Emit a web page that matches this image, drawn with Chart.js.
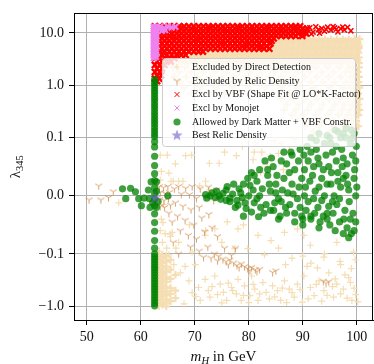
<!DOCTYPE html>
<html>
<head>
<meta charset="utf-8">
<script src="https://cdn.jsdelivr.net/npm/chart.js@4.4.1/dist/chart.umd.min.js"></script>
<style>
  html, body { margin: 0; padding: 0; background: #fff; overflow: hidden; width: 374px; height: 364px; }
  canvas { display: block; }
</style>
</head>
<body>
<canvas id="chart" width="380" height="364"></canvas>
<script>
// tick positions / labels
const xTicks = [50, 60, 70, 80, 90, 100];
const yTicks = [-1, -0.1, 0, 0.1, 1, 10];
const yTickLabels = ["\u22121.0", "\u22120.1", "0.0", "0.1", "1.0", "10.0"];

const seriesLabels = [
  "Excluded by Direct Detection",
  "Excluded by Relic Density",
  "Excl by VBF (Shape Fit @ LO*K-Factor)",
  "Excl by Monojet",
  "Allowed by Dark Matter + VBF Constr.",
  "Best Relic Density"
];

// ---- Excluded by Direct Detection (rows: [lambda, [mH ...]]) ----
const directRows = [
  [7.6, [85.3, 86.4, 87.5, 88.6, 89.7, 90.8, 91.9, 93.0, 94.1, 95.2, 96.3, 97.4, 98.5, 99.6, 100.5]],
  [7.0, [84.6, 85.8, 86.9, 88.0, 89.1, 90.2, 91.3, 92.4, 93.5, 94.6, 95.7, 96.8, 97.9, 99.0, 100.1]],
  [6.3, [84.8, 85.9, 87.0, 88.1, 89.2, 90.3, 91.4, 92.5, 93.6, 94.7, 95.8, 96.9, 98.0, 99.1, 100.2]],
  [5.7, [79.5, 80.6, 81.7, 82.8, 83.9, 85.0, 86.1, 87.2, 88.3, 89.4, 90.5, 91.6, 92.7, 93.8, 94.9, 96.0, 97.1, 98.2, 99.3, 100.4]],
  [5.2, [78.4, 79.5, 80.6, 81.7, 82.8, 83.9, 85.0, 86.1, 87.2, 88.3, 89.4, 90.5, 91.6, 92.7, 93.8, 94.9, 96.0, 97.1, 98.2, 99.3, 100.4]],
  [4.7, [77.0, 78.1, 79.2, 80.3, 81.4, 82.5, 83.6, 84.7, 85.8, 86.9, 88.0, 89.1, 90.2, 91.3, 92.4, 93.5, 94.6, 95.7, 96.8, 97.9, 99.0, 100.1]],
  [4.2, [70.5, 71.6, 72.7, 73.8, 74.9, 76.0, 77.1, 78.2, 79.3, 80.4, 81.5, 82.6, 83.7, 84.8, 85.9, 87.0, 88.1, 89.2, 90.3, 91.4, 92.5, 93.6, 94.7, 95.8, 96.9, 98.0, 99.1, 100.3]],
  [3.8, [68.0, 69.1, 70.2, 71.3, 72.4, 73.5, 74.6, 75.7, 76.8, 77.9, 79.0, 80.1, 81.2, 82.3, 83.4, 84.5, 85.6, 86.7, 87.8, 88.9, 90.0, 91.1, 92.2, 93.3, 94.4, 95.5, 96.6, 97.7, 98.8, 99.9]],
  [3.4, [66.5, 67.6, 68.7, 69.8, 70.9, 72.0, 73.1, 74.2, 75.3, 76.4, 77.5, 78.6, 79.7, 80.8, 81.9, 83.0, 84.1, 85.2, 86.3, 87.4, 88.5, 89.6, 90.7, 91.8, 92.9, 94.0, 95.1, 96.2, 97.3, 98.4, 99.5, 100.4]],
  [3.0, [66.0, 67.1, 68.2, 69.3, 70.4, 71.5, 72.6, 73.7, 74.8, 75.9, 77.0, 78.1, 79.2, 80.3, 81.4, 82.5, 83.6, 84.7, 85.8, 86.9, 88.0, 89.1, 90.2, 91.3, 92.4, 93.5, 94.6, 95.7, 96.8, 97.9, 99.0, 100.1]],
  [2.65, [66.5, 67.6, 68.7, 69.8, 70.9, 72.0, 73.1, 74.2, 75.3, 76.4, 77.5, 78.6, 79.7, 80.8, 81.9, 83.0, 84.1, 85.2, 86.3, 87.4, 88.5, 89.6, 90.7, 91.8, 92.9, 94.0, 95.1, 96.2, 97.3, 98.4, 99.4, 100.4]],
  [2.2, [66.0, 68.2, 70.4, 72.6, 74.8, 77.0, 79.2, 81.4, 83.6, 85.8, 88.0, 90.2, 92.4, 94.6, 96.8, 98.6, 99.5, 100.4]],
  [1.8, [67.1, 69.3, 71.5, 73.7, 75.9, 78.1, 80.3, 82.5, 84.7, 86.9, 89.1, 91.3, 93.5, 95.7, 97.9, 99.2, 100.2]],
  [1.45, [66.2, 68.4, 70.6, 72.8, 75.0, 77.2, 79.4, 81.6, 83.8, 86.0, 88.2, 90.4, 92.6, 94.8, 97.0, 98.8, 99.6, 100.4]],
  [1.15, [67.3, 69.5, 71.7, 73.9, 76.1, 78.3, 80.5, 82.7, 84.9, 87.1, 89.3, 91.5, 93.7, 95.9, 98.1, 99.3, 100.3]],
  [0.9, [68.0, 71.0, 74.0, 77.0, 80.0, 83.0, 86.0, 89.0, 92.0, 95.0, 97.5, 98.9, 99.7, 100.5]],
  [0.7, [69.5, 72.5, 75.5, 78.5, 81.5, 84.5, 87.5, 90.5, 93.5, 96.0, 98.0, 99.3, 100.3]],
  [0.55, [86.0, 88.2, 90.4, 92.6, 94.8, 96.8, 98.4, 99.6, 100.5]],
  [0.43, [87.1, 89.3, 91.5, 93.7, 95.9, 97.7, 99.2, 100.3]],
  [0.34, [86.5, 88.7, 90.9, 93.1, 95.3, 97.3, 98.8, 99.7, 100.5]],
  [0.27, [88.0, 90.2, 92.4, 94.6, 96.6, 98.3, 99.4, 100.3]],
  [0.21, [89.0, 91.2, 93.4, 95.6, 97.6, 99.0, 99.9]],
  [0.165, [90.5, 93.0, 95.5, 97.8, 99.3, 100.3]],
  [0.13, [92.0, 95.0, 97.5, 99.6]]
];
const directColumns = [
  [63.3, [-0.1, -0.112, -0.126, -0.142, -0.16, -0.18, -0.2, -0.225, -0.255, -0.29, -0.33, -0.37, -0.42, -0.47, -0.53, -0.6, -0.68, -0.77, -0.87, -0.98]],
  [64.0, [-0.106, -0.12, -0.135, -0.15, -0.17, -0.19, -0.215, -0.24, -0.27, -0.31, -0.35, -0.4, -0.45, -0.5, -0.57, -0.64, -0.72, -0.82, -0.93]],
  [64.7, [-0.11, -0.14, -0.175, -0.22, -0.28, -0.34, -0.43, -0.52, -0.62, -0.74, -0.88, -1.0]],
  [65.5, [-0.13, -0.2, -0.3, -0.45, -0.58, -0.8]],
  [66.4, [-0.25, -0.5, -0.7]]
];
const directPoints = [
  [55.9, -0.012],
  [63.6, 0.07], [64.9, 0.07], [66.4, 0.055], [63.8, 0.042], [65.2, 0.039], [63.6, 0.027], [65.6, 0.025],
  [67.0, 0.025], [68.3, 0.069], [69.4, 0.07], [72.0, 0.025], [72.7, 0.056], [74.5, 0.056], [77.7, 0.069],
  [80.0, 0.1], [81.2, 0.09], [81.0, 0.075], [82.4, 0.075], [83.5, 0.05], [80.8, 0.062], [82.2, 0.04],
  [84.0, 0.068], [84.7, 0.095], [85.5, 0.073], [86.4, 0.045], [86.0, 0.09], [70.9, 0.017], [72.7, 0.01],
  [66.0, 0.025], [67.8, 0.025], [75.5, 0.075], [78.8, 0.085], [88.5, 0.098], [87.5, 0.085],
  [63.5, -0.015], [64.2, -0.015], [63.8, -0.04], [63.6, -0.06], [64.5, -0.065], [65.5, -0.07], [64.0, -0.08],
  [64.8, -0.09], [66.5, -0.09], [63.4, -0.095], [64.1, -0.046], [65.4, -0.066],
  [66.1, -0.16], [67.3, -0.229], [68.2, -0.172], [68.9, -0.327], [70.7, -0.437], [71.0, -0.774], [71.9, -0.305],
  [72.5, -0.5], [72.8, -0.67], [73.7, -0.264], [74.7, -0.378], [75.3, -0.54], [75.9, -0.774], [76.8, -0.437],
  [77.4, -0.091], [77.7, -0.58], [78.0, -0.305], [78.6, -0.774], [79.2, -0.406], [80.2, -0.625], [80.5, -0.264],
  [81.1, -0.469], [81.7, -0.774], [82.6, -0.352], [83.2, -0.54], [83.8, -0.72], [84.4, -0.406], [85.3, -0.5],
  [85.9, -0.774], [86.6, -0.327], [87.5, -0.469], [88.4, -0.67], [89.0, -0.378], [89.9, -0.83], [90.2, -0.264],
  [90.8, -0.172], [91.4, -0.437], [92.1, -0.625], [92.7, -0.185], [93.0, -0.327], [93.9, -0.5], [94.8, -0.229],
  [95.7, -0.67], [96.3, -0.378], [96.9, -0.138], [97.5, -0.469], [98.5, -0.284], [99.1, -0.774], [99.7, -0.129],
  [99.4, -0.097], [96.3, -0.08], [93.9, -0.115], [91.4, -0.085], [90.2, -0.068], [89.0, -0.057], [86.6, -0.063],
  [84.1, -0.077], [82.9, -0.104], [81.7, -0.068], [79.8, -0.091], [78.0, -0.057], [75.0, -0.08], [73.7, -0.057],
  [71.9, -0.068], [70.1, -0.16], [69.5, -0.097], [67.0, -0.08], [65.8, -0.063], [65.2, -0.104],
  [69.5, -0.55], [70.2, -0.65], [73.2, -0.42], [74.2, -0.6], [76.2, -0.36], [77.0, -0.5], [79.0, -0.62],
  [80.8, -0.38], [82.0, -0.58], [84.8, -0.66], [86.2, -0.45], [88.0, -0.55], [89.5, -0.48], [91.0, -0.72],
  [92.5, -0.38], [94.5, -0.62], [95.5, -0.42], [97.0, -0.58], [98.2, -0.7], [99.5, -0.45], [98.8, -0.35],
  [97.8, -0.25], [96.0, -0.3], [99.8, -0.6], [100.2, -0.82], [93.5, -0.8], [87.0, -0.85], [80.0, -0.85],
  [75.0, -0.86], [68.0, -0.9], [85.5, -0.09], [88.0, -0.12], [91.5, -0.15], [94.0, -0.1], [97.0, -0.16],
  [99.0, -0.19], [86.8, -0.16], [90.0, -0.11], [69.0, -0.05], [72.0, -0.06], [76.0, -0.045], [79.0, -0.05]
];

// ---- Excluded by Relic Density ----
const relicPoints = [
  [50.4, -0.007], [52.2, 0.017], [52.6, -0.007], [54.0, -0.003], [54.9, 0.007],
  [63.4, 0.016], [64.2, 0.014], [65.0, 0.016], [63.6, 0.006], [64.5, 0.004], [65.3, 0.006], [63.5, -0.006],
  [64.3, -0.008], [65.1, -0.005], [63.6, -0.018], [64.4, -0.02], [65.5, -0.016], [66.2, 0.012], [67.0, 0.016],
  [68.3, 0.013], [69.5, 0.016], [71.0, 0.012], [72.5, 0.015], [74.0, 0.01], [67.5, 0.003], [69.0, 0.002],
  [70.3, -0.004], [72.0, -0.002], [73.5, -0.008], [66.4, -0.012], [67.8, -0.018], [69.3, -0.024], [70.8, -0.02],
  [66.8, -0.035], [68.2, -0.042], [69.8, -0.05], [71.3, -0.038], [72.6, -0.032], [67.3, -0.06], [68.8, -0.068],
  [70.3, -0.074], [71.8, -0.062], [73.2, -0.055], [74.2, -0.07], [69.2, -0.088], [70.8, -0.095], [72.4, -0.088],
  [73.6, -0.1], [71.6, -0.115], [73.0, -0.12], [74.4, -0.11], [75.2, -0.125], [74.2, -0.135], [75.8, -0.14],
  [76.5, -0.13], [77.2, -0.148], [76.2, -0.16], [77.8, -0.165], [78.6, -0.155], [79.2, -0.175], [78.2, -0.18],
  [79.8, -0.19], [80.5, -0.18], [81.2, -0.2], [82.0, -0.195], [81.5, -0.215], [80.2, -0.205], [84.4, -0.225],
  [85.0, -0.21], [93.8, -0.33], [94.3, -0.36], [94.8, -0.34], [75.5, -0.09], [76.8, -0.105], [77.5, -0.09],
  [65.8, -0.045], [66.0, -0.08], [67.0, -0.1], [65.2, -0.03]
];

// ---- Excl by VBF ----
const vbfRows = [
  [13.4, [62.6, 63.5, 64.4, 65.3, 66.2, 67.1, 68.0, 68.9, 69.8, 70.7, 71.6, 72.5, 73.4, 74.3, 75.2, 76.1, 77.0, 77.9, 78.8, 79.7, 80.6, 81.5, 82.4, 83.3, 84.2, 85.1, 86.0, 86.9, 87.8, 88.7, 89.5]],
  [12.1, [63.0, 63.9, 64.8, 65.7, 66.6, 67.5, 68.4, 69.3, 70.2, 71.1, 72.0, 72.9, 73.8, 74.7, 75.6, 76.5, 77.4, 78.3, 79.2, 80.1, 81.0, 81.9, 82.8, 83.7, 84.6, 85.5, 86.4, 87.3, 88.2, 89.1, 90.0, 90.8]],
  [10.9, [62.6, 63.5, 64.4, 65.3, 66.2, 67.1, 68.0, 68.9, 69.8, 70.7, 71.6, 72.5, 73.4, 74.3, 75.2, 76.1, 77.0, 77.9, 78.8, 79.7, 80.6, 81.5, 82.4, 83.3, 84.2, 85.1, 86.0, 86.9, 87.8, 88.7, 89.6, 90.4]],
  [9.8, [63.0, 63.9, 64.8, 65.7, 66.6, 67.5, 68.4, 69.3, 70.2, 71.1, 72.0, 72.9, 73.8, 74.7, 75.6, 76.5, 77.4, 78.3, 79.2, 80.1, 81.0, 81.9, 82.8, 83.7, 84.6, 85.5, 86.4, 87.3, 88.2, 89.1, 90.0, 90.6]],
  [8.8, [62.6, 63.5, 64.4, 65.3, 66.2, 67.1, 68.0, 68.9, 69.8, 70.7, 71.6, 72.5, 73.4, 74.3, 75.2, 76.1, 77.0, 77.9, 78.8, 79.7, 80.6, 81.5, 82.4, 83.3, 84.2, 85.1, 86.0, 86.9, 87.8, 88.7, 89.9]],
  [7.9, [63.0, 63.9, 64.8, 65.7, 66.6, 67.5, 68.4, 69.3, 70.2, 71.1, 72.0, 72.9, 73.8, 74.7, 75.6, 76.5, 77.4, 78.3, 79.2, 80.1, 81.0, 81.9, 82.8, 83.7, 84.6]],
  [7.1, [62.6, 63.5, 64.4, 65.3, 66.2, 67.1, 68.0, 68.9, 69.8, 70.7, 71.6, 72.5, 73.4, 74.3, 75.2, 76.1, 77.0, 77.9, 78.8, 79.7, 80.6, 81.5, 82.4, 83.3, 84.2]],
  [6.3, [63.0, 63.9, 64.8, 65.7, 66.6, 67.5, 68.4, 69.3, 70.2, 71.1, 72.0, 72.9, 73.8, 74.7, 75.6, 76.5, 77.4, 78.3, 79.2, 80.1, 81.0, 81.9, 82.8, 84.0]],
  [5.6, [62.6, 63.5, 64.4, 65.3, 66.2, 67.1, 68.0, 68.9, 69.8, 70.7, 71.6, 72.5, 73.4, 74.3, 75.2, 76.1, 77.0, 77.9, 78.8, 79.7, 80.6, 81.5, 82.4, 83.3]],
  [5.0, [63.0, 63.9, 64.8, 65.7, 66.6, 67.5, 68.4, 69.3, 70.2, 71.1, 72.0, 72.9, 73.8, 74.7, 75.6, 76.5, 77.4, 78.3, 79.2, 80.1, 81.0, 81.9, 82.8, 83.8]],
  [4.4, [62.6, 63.5, 64.4, 65.3, 66.2, 67.1, 68.0, 68.9, 69.8, 70.7, 71.5]],
  [3.8, [63.0, 63.9, 64.8, 65.7, 66.6, 67.5, 68.3]],
  [3.3, [62.6, 63.5, 64.4, 65.3, 66.2]],
  [2.85, [63.0, 63.9, 64.8, 65.5]],
  [2.45, [62.6, 63.5, 64.4]],
  [2.1, [63.0, 63.9]],
  [1.8, [62.6, 63.5]],
  [1.55, [63.0, 63.8]],
  [1.35, [62.6, 63.4]],
  [1.2, [63.0]]
];
const vbfPoints = [
  [91.3, 12.6], [91.9, 10.4], [92.4, 13.1], [92.9, 11.6], [93.5, 12.3], [94.0, 10.8], [94.6, 12.9],
  [95.2, 11.3], [95.9, 12.5], [96.5, 10.5], [97.0, 12.1], [97.7, 11.4], [98.3, 12.8], [98.9, 11.0],
  [91.6, 9.6], [93.1, 9.9], [95.6, 13.3], [97.4, 13.0], [96.2, 11.8], [94.3, 11.7],
  [63.3, 13.0], [65.0, 11.5], [67.5, 12.8], [70.0, 11.4], [72.7, 12.7], [75.5, 11.6], [78.0, 12.6],
  [80.8, 11.5], [83.4, 12.7], [86.0, 11.6], [88.5, 12.6], [66.0, 8.3], [70.4, 7.5], [74.8, 6.7],
  [79.4, 5.9], [82.2, 5.3], [64.2, 4.1], [66.8, 3.6], [65.2, 3.1]
];

// ---- Excl by Monojet ----
const monojetColumns = [
  [62.4, [13.3, 12.2, 11.1, 10.0, 8.9, 7.9, 7.0, 6.2, 5.5, 4.8, 4.2, 3.7, 3.3]],
  [62.8, [13.0, 11.7, 10.5, 9.4, 8.4, 7.5, 6.6, 5.8, 5.1, 4.5, 3.9, 3.5]]
];
const monojetPoints = [
  [63.6, 13.3], [64.3, 12.4], [65.0, 13.4], [65.7, 12.6], [66.4, 13.1], [63.6, 12.0], [64.5, 11.3], [63.9, 11.0]
];

// ---- Allowed by Dark Matter + VBF ----
const allowedColumns = [
  [62.55, [1.3, 1.15, 1.02, 0.9, 0.79, 0.7, 0.61, 0.54, 0.47, 0.41, 0.36, 0.31, 0.27, 0.235, 0.205, 0.18, 0.155, 0.135, 0.118, 0.104, 0.093,
           0.084, 0.068, 0.052, 0.038, 0.026, 0.014, 0.004, -0.006, -0.017, -0.031, -0.046, -0.061, -0.077, -0.09,
           -0.1, -0.112, -0.126, -0.142, -0.16, -0.18, -0.2, -0.225, -0.255, -0.29, -0.33, -0.37, -0.42, -0.47, -0.53, -0.6, -0.68, -0.77, -0.87, -0.98]]
];
const allowedPoints = [
  [56.6, 0.012], [58.1, 0.013], [59.0, 0.007], [57.2, -0.005], [59.6, -0.005], [60.6, -0.004], [61.6, -0.005],
  [60.1, -0.017], [61.7, -0.02], [62.2, -0.012], [61.4, 0.01], [61.9, 0.024], [62.9, 0.024], [62.9, 0.008],
  [63.2, -0.01], [65.0, 0.0], [62.9, -0.02],
  [72.0, 0.002], [73.2, 0.005], [74.5, 0.0], [72.2, -0.004], [74.8, -0.006], [75.8, 0.01], [75.8, -0.008],
  [77.0, 0.003], [76.5, -0.004], [76.5, -0.01], [78.2, 0.012], [78.8, -0.003], [78.0, -0.016], [77.5, -0.02],
  [79.0, 0.02], [79.8, 0.03], [79.0, -0.035], [79.3, -0.012],
  [80.5, 0.04], [81.5, 0.025], [80.8, 0.01], [82.0, 0.0], [81.0, -0.012], [82.2, -0.02], [80.5, -0.028], [81.8, -0.036],
  [83.0, 0.06], [84.5, 0.05], [83.5, 0.035], [85.0, 0.02], [84.0, 0.008], [85.5, -0.005], [83.2, -0.015],
  [84.6, -0.025], [85.8, -0.035], [84.0, -0.025], [85.5, -0.04], [83.5, 0.045],
  [86.5, 0.075], [88.0, 0.07], [89.5, 0.08], [87.0, 0.055], [88.5, 0.045], [86.5, 0.03], [88.0, 0.02],
  [89.8, 0.03], [87.2, 0.005], [89.0, -0.005], [86.8, -0.02], [88.5, -0.03], [90.0, -0.04], [87.0, -0.03], [88.5, -0.045],
  [90.8, 0.085], [92.5, 0.08], [94.0, 0.09], [95.5, 0.075], [91.0, 0.06], [93.0, 0.055], [94.8, 0.05],
  [91.8, 0.035], [93.5, 0.03], [95.2, 0.02], [90.5, 0.015], [92.3, 0.008], [94.0, 0.0], [95.5, -0.01],
  [91.0, -0.01], [92.8, -0.02], [94.5, -0.03], [91.5, -0.035], [93.2, -0.045], [95.0, -0.05], [90.0, -0.05],
  [91.5, -0.04], [93.0, -0.055], [94.5, -0.04],
  [96.5, 0.13], [98.0, 0.15], [99.5, 0.12], [97.0, 0.1], [98.8, 0.09], [96.2, 0.085], [97.5, 0.065],
  [99.2, 0.07], [96.5, 0.04], [98.0, 0.035], [99.6, 0.045], [97.0, 0.015], [98.5, 0.01], [99.8, 0.0],
  [96.3, -0.015], [97.8, -0.025], [99.3, -0.03], [96.8, -0.045], [98.2, -0.055], [99.5, -0.06], [97.5, -0.065],
  [98.5, -0.072], [96.0, -0.06], [99.0, -0.065],
  [91.5, 0.1], [93.0, 0.12], [94.5, 0.11], [96.0, 0.14], [97.5, 0.12], [99.0, 0.14], [92.5, 0.095], [95.0, 0.1],
  [72.8, 0.0], [73.8, -0.003], [74.0, 0.008], [75.2, 0.004], [76.0, 0.016], [77.2, 0.02], [77.8, -0.008],
  [78.5, 0.005], [79.5, -0.022], [80.0, 0.0], [80.2, 0.018], [81.0, 0.035], [81.5, -0.005], [82.5, 0.012],
  [82.8, -0.03], [82.0, 0.045], [83.8, 0.02], [84.2, 0.065], [85.2, 0.035], [85.0, 0.005], [84.8, -0.012],
  [86.0, 0.06], [86.2, 0.01], [86.0, -0.01], [87.5, 0.04], [87.8, 0.075], [87.6, -0.015], [88.2, 0.003],
  [89.2, 0.06], [89.3, 0.015], [89.5, -0.02], [89.8, -0.035], [90.2, 0.07], [90.3, 0.045], [90.3, 0.0],
  [90.6, -0.025], [91.5, 0.075], [91.3, 0.025], [92.0, 0.05], [92.0, -0.005], [92.2, -0.03], [92.8, 0.065],
  [93.0, 0.015], [93.8, 0.045], [93.5, -0.008], [93.8, -0.035], [94.3, 0.07], [94.5, 0.02], [94.8, -0.018],
  [95.2, 0.09], [95.3, 0.04], [95.8, 0.0], [95.6, -0.03], [96.2, 0.06], [96.5, 0.025], [96.8, -0.005],
  [97.2, 0.08], [97.3, 0.05], [97.5, 0.03], [97.6, -0.04], [98.0, 0.1], [98.2, 0.055], [98.3, 0.02],
  [98.6, -0.01], [98.8, -0.04], [99.2, 0.1], [99.5, 0.03], [99.8, 0.06], [99.8, -0.045], [100.0, 0.015], [99.9, 0.085]
];

// ---- Best Relic Density ----
const bestPoints = [[62.6, -0.004]];

// symmetric log axis, linear below 0.1 (same as matplotlib symlog, linthresh=0.1)
const LINTHRESH = 0.1;
const LINSCALE = 1 / (1 - 1 / 10);
function symlog(v) {
  const a = Math.abs(v);
  if (a <= LINTHRESH) return v / LINTHRESH * LINSCALE;
  return Math.sign(v) * (LINSCALE + Math.log10(a / LINTHRESH));
}
const pairsToPts = (list) => list.map(([m, l]) => ({ x: m, y: symlog(l) }));
const rowsToPts = (rows) => rows.flatMap(([l, ms]) => ms.map((m) => ({ x: m, y: symlog(l) })));
const colsToPts = (cols) => cols.flatMap(([m, ls]) => ls.map((l) => ({ x: m, y: symlog(l) })));

// marker images
function triDown(color) {
  const c = document.createElement("canvas");
  c.width = c.height = 9;
  const g = c.getContext("2d");
  g.strokeStyle = color;
  g.lineWidth = 1;
  g.beginPath();
  g.moveTo(4.5, 4.5); g.lineTo(4.5, 8.5);
  g.moveTo(4.5, 4.5); g.lineTo(1.0, 2.5);
  g.moveTo(4.5, 4.5); g.lineTo(8.0, 2.5);
  g.stroke();
  return c;
}
function star(color, size) {
  const c = document.createElement("canvas");
  c.width = c.height = size;
  const g = c.getContext("2d");
  const h = size / 2, ro = size / 2, ri = ro * 0.4;
  g.fillStyle = color;
  g.beginPath();
  for (let i = 0; i < 10; i++) {
    const r = i % 2 ? ri : ro;
    const a = -Math.PI / 2 + i * Math.PI / 5;
    const px = h + r * Math.cos(a), py = h + r * Math.sin(a);
    if (i === 0) g.moveTo(px, py); else g.lineTo(px, py);
  }
  g.closePath();
  g.fill();
  return c;
}
const relicMarker = triDown("rgba(205,133,63,0.75)");
const bestMarker = star("rgba(106,90,205,0.6)", 12);

const SERIF = '"Liberation Serif", "DejaVu Serif", serif';

// dense bands get heavier strokes than the scattered marks
const directDense = rowsToPts(directRows).concat(colsToPts(directColumns));
const directSparse = pairsToPts(directPoints);
const vbfDense = rowsToPts(vbfRows);
const vbfSparse = pairsToPts(vbfPoints);

const datasets = [
  {
    label: seriesLabels[0],
    data: directDense.concat(directSparse),
    pointStyle: "cross",
    pointRadius: directDense.map(() => 3.8).concat(directSparse.map(() => 3.5)),
    pointBorderWidth: directDense.map(() => 2.2).concat(directSparse.map(() => 1.2)),
    pointBorderColor: "rgb(245,222,179)", pointBackgroundColor: "rgb(245,222,179)",
    order: 6
  },
  {
    label: seriesLabels[1],
    data: pairsToPts(relicPoints),
    pointStyle: relicMarker, pointRadius: 4,
    order: 5
  },
  {
    label: seriesLabels[2],
    data: vbfDense.concat(vbfSparse),
    pointStyle: "crossRot",
    pointRadius: vbfDense.map(() => 4.3).concat(vbfSparse.map(() => 3.6)),
    pointBorderWidth: vbfDense.map(() => 2.4).concat(vbfSparse.map(() => 1.5)),
    pointBorderColor: "rgb(255,0,0)", pointBackgroundColor: "rgb(255,0,0)",
    order: 4
  },
  {
    label: seriesLabels[3],
    data: colsToPts(monojetColumns).concat(pairsToPts(monojetPoints)),
    pointStyle: "crossRot", pointRadius: 4, pointBorderWidth: 2.2,
    pointBorderColor: "rgb(238,130,238)", pointBackgroundColor: "rgb(238,130,238)",
    order: 3
  },
  {
    label: seriesLabels[4],
    data: colsToPts(allowedColumns).concat(pairsToPts(allowedPoints)),
    pointStyle: "circle", pointRadius: 3.6, pointBorderWidth: 0,
    pointBackgroundColor: "rgba(0,128,0,0.75)", pointBorderColor: "rgba(0,128,0,0)",
    order: 2
  },
  {
    label: seriesLabels[5],
    data: pairsToPts(bestPoints),
    pointStyle: bestMarker, pointRadius: 6,
    order: 1
  }
];

// legend marker stroke widths and sizes
const legendWidths = [1, 1, 1, 1, 0, 0];
const legendRadius = [3, 4, 3.5, 3.5, 3.6, 6];

// frame, legend box and axis titles
const decorPlugin = {
  id: "decor",
  afterDraw(chart) {
    const ctx = chart.ctx;
    const a = chart.chartArea;
    ctx.save();
    ctx.strokeStyle = "#000";
    ctx.lineWidth = 1;
    ctx.beginPath();
    ctx.moveTo(a.left, Math.round(a.top) + 0.5);
    ctx.lineTo(a.right, Math.round(a.top) + 0.5);
    ctx.moveTo(Math.round(a.right) - 0.5, a.top);
    ctx.lineTo(Math.round(a.right) - 0.5, a.bottom);
    ctx.stroke();

    // legend
    ctx.beginPath();
    ctx.roundRect(162.5, 58.5, 193, 88, 3);
    ctx.fillStyle = "rgba(255,255,255,0.8)";
    ctx.fill();
    ctx.strokeStyle = "#cccccc";
    ctx.stroke();
    const rowY = [67, 81, 94.5, 108, 122, 135.5];
    ctx.font = "10px " + SERIF;
    ctx.textBaseline = "middle";
    chart.data.datasets.forEach((ds, i) => {
      const y = rowY[i];
      ctx.fillStyle = ds.pointBackgroundColor || "#000";
      ctx.strokeStyle = ds.pointBorderColor || "#000";
      ctx.lineWidth = legendWidths[i] || 1;
      Chart.helpers.drawPoint(ctx, {
        pointStyle: ds.pointStyle, radius: legendRadius[i], rotation: 0,
        borderWidth: legendWidths[i]
      }, 177, y);
      ctx.fillStyle = "#111";
      ctx.fillText(ds.label, 192, y);
    });

    // x title: m_H in GeV
    const cx = (a.left + a.right) / 2;
    const base = 361;
    ctx.fillStyle = "#111";
    ctx.textBaseline = "alphabetic";
    const fMain = "15px " + SERIF, fIt = "italic 15px " + SERIF, fSub = "italic 10.5px " + SERIF;
    ctx.font = fIt; const w1 = ctx.measureText("m").width;
    ctx.font = fSub; const w2 = ctx.measureText("H").width;
    ctx.font = fMain; const w3 = ctx.measureText(" in GeV").width;
    let x0 = cx - (w1 + w2 + w3) / 2;
    ctx.font = fIt; ctx.fillText("m", x0, base);
    ctx.font = fSub; ctx.fillText("H", x0 + w1, base + 3);
    ctx.font = fMain; ctx.fillText(" in GeV", x0 + w1 + w2, base);

    // y title: lambda_345
    const cy = (a.top + a.bottom) / 2;
    ctx.font = "15px " + SERIF; const l1 = ctx.measureText("\u03bb").width;
    ctx.font = "10.5px " + SERIF; const l2 = ctx.measureText("345").width;
    ctx.translate(20, cy + (l1 + l2) / 2);
    ctx.rotate(-Math.PI / 2);
    ctx.font = "15px " + SERIF; ctx.fillText("\u03bb", 0, 0);
    ctx.font = "10.5px " + SERIF; ctx.fillText("345", l1, 3);
    ctx.restore();
  }
};

const gridOpts = { color: "#b0b0b0", lineWidth: 1, tickColor: "#000", tickLength: 5, tickWidth: 1 };

new Chart(document.getElementById("chart"), {
  type: "scatter",
  data: { datasets },
  options: {
    responsive: false,
    animation: false,
    devicePixelRatio: 1,
    events: [],
    layout: { padding: { left: 0, right: 3.6, top: 7, bottom: 0 } },
    plugins: { legend: { display: false }, tooltip: { enabled: false } },
    scales: {
      x: {
        type: "linear", position: "bottom", min: 47.62, max: 103, z: 1,
        afterBuildTicks: (s) => { s.ticks = xTicks.map((v) => ({ value: v })); },
        afterFit: (s) => { s.height = 44; },
        grid: gridOpts,
        border: { display: true, color: "#000", width: 1 },
        ticks: { autoSkip: false, maxRotation: 0, padding: 4, color: "#111", font: { family: SERIF, size: 14 },
                 callback: (v) => String(v) }
      },
      y: {
        type: "linear", position: "left", min: -2.373, max: 3.485, z: 1,
        afterBuildTicks: (s) => { s.ticks = yTicks.map((v) => ({ value: symlog(v) })); },
        afterFit: (s) => { s.width = 74; },
        grid: gridOpts,
        border: { display: true, color: "#000", width: 1 },
        ticks: { autoSkip: false, padding: 5, color: "#111", font: { family: SERIF, size: 14 },
                 callback: (v, i) => yTickLabels[i] }
      }
    }
  },
  plugins: [decorPlugin]
});
</script>
</body>
</html>
